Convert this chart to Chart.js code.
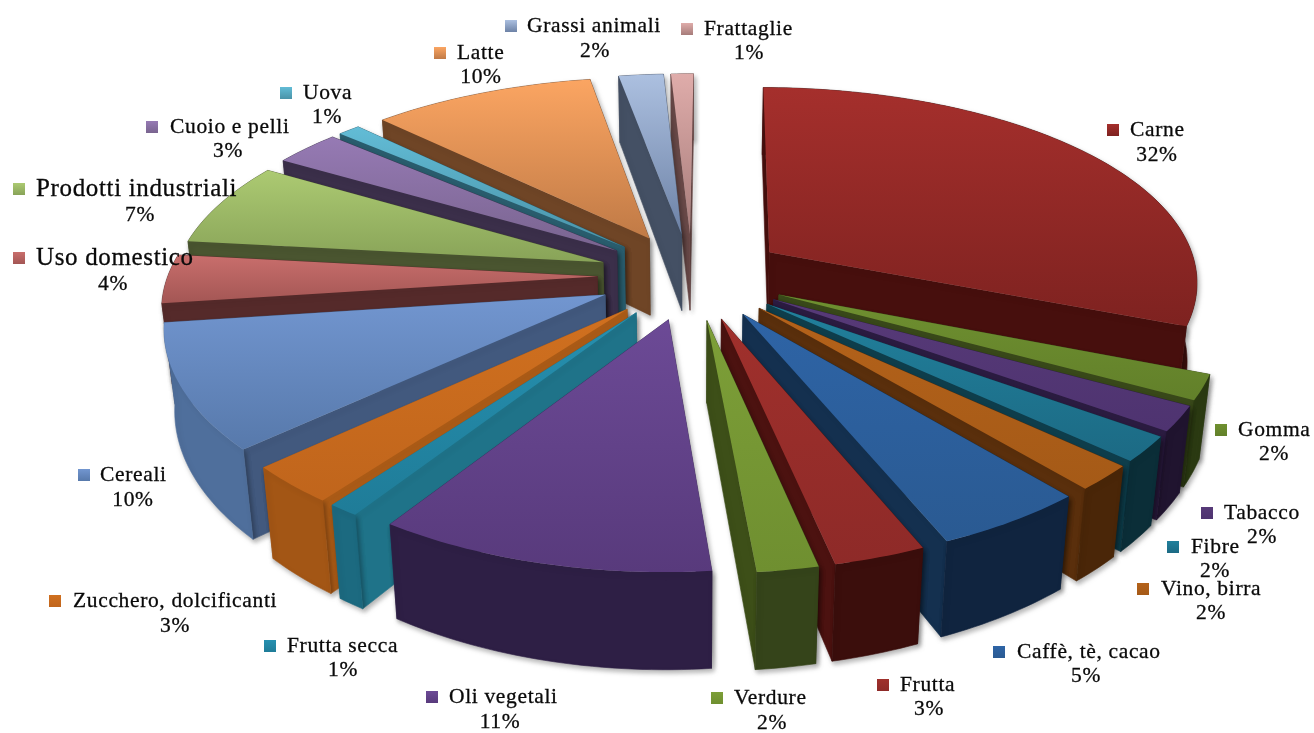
<!DOCTYPE html>
<html>
<head>
<meta charset="utf-8">
<title>Torta 3D</title>
<script src="https://cdn.jsdelivr.net/npm/chart.js@4/dist/chart.umd.min.js"></script>
<style>
  html, body { margin:0; padding:0; background:#fff; }
  canvas { display:block; }
</style>
</head>
<body>
<canvas id="torta" width="1314" height="733"></canvas>
<script>
const categorie = ["Carne","Gomma","Tabacco","Fibre","Vino, birra","Caffè, tè, cacao","Frutta","Verdure","Oli vegetali","Frutta secca","Zucchero, dolcificanti","Cereali","Uso domestico","Prodotti industriali","Cuoio e pelli","Uova","Latte","Grassi animali","Frattaglie"];
const percentuali = [31.7,2,2,2,2,5,3,2,11,1,3,10,4,7,3,1,10,2,1];

// colori: faccia sopra (chiaro, scuro), pareti radiali, parete esterna
const coloriChiari = ["#a52f2c","#6f9030","#573a78","#21809c","#b4621a","#2e64a6","#a0302c","#7d9f38","#6c4a96","#2690b0","#d0701f","#7296d0","#c96e6c","#acca72","#967ab4","#62bcd6","#fba562","#acc0e0","#dfacaa"];
const coloriScuri  = ["#7e2220","#62802a","#4e3370","#1c6a84","#a55a17","#2a5a92","#8e2a28","#6f8f30","#583a7c","#1f7c98","#c0651c","#5779ab","#a35654","#88a358","#79648f","#4a93a8","#c07a46","#6d82a6","#a67c7a"];
const coloriLato   = ["#470f0d","#3a4a1a","#2c1c42","#0f3f4d","#5a2f0c","#14304f","#4c1210","#3d4f18","#3a2858","#1f7389","#ad5c17","#42597e","#552a2a","#4a5530","#3b2f4a","#2a5f70","#6f4526","#445064","#6b4b4a"];
const coloriFuori  = ["#3f0f0d","#2b3a12","#20142f","#0b2e38","#4a2608","#10243f","#3b0e0c","#35441a","#2e1f45","#1c6a80","#a35615","#4f6f9c","#552a2a","#4a5530","#3b2f4a","#2a5f70","#6f4526","#445064","#6b4b4a"];

// etichette: x quadratino, x nome, y nome, x percento, y percento, corpo
const posEtichette = [
  [1107,1130,130,1157,155,21.5],[1215,1238,430,1274,454,21.5],[1201,1224,513,1262,537,21.5],[1167,1191,547,1215,571,21.5],
  [1137,1161,589,1211,613,21.5],[993,1017,652,1086,676,21.5],[877,900,685,929,709,21.5],[711,734,698,772,723,21.5],
  [426,449,697,500,722,21.5],[264,287,646,343,670,21.5],[49,73,601,175,626,21.5],[78,100,475,133,500,21.5],
  [13,36,258,113,284,25],[13,36,189,140,215,25],[146,170,127,228,151,21.5],[280,303,93,327,117,21.5],
  [434,457,53,481,77,21.5],[505,527,26,595,51,21.5],[681,704,29,749,53,21.5]
];

const CX = 692, CY = 276;      // centro a schermo
const RAGGIO = 426;
const SCALA_X = 1.008, SCHIACCIA = 0.4634, PROSP_Y = 0.157, PROSP_X = 0.137, ALTEZZA = 79, RIENTRO = 0.02;

function proietta(px, py, z) {
  const v = py / RAGGIO;
  const wx = 1 - PROSP_X * v + RIENTRO * z;
  const wy = 1 - PROSP_Y * v;
  return [CX + px * SCALA_X / wx, CY + (py * SCHIACCIA + ALTEZZA * z) / wy];
}

function poligono(ctx, punti, colore) {
  ctx.beginPath();
  punti.forEach((p, i) => i ? ctx.lineTo(p[0], p[1]) : ctx.moveTo(p[0], p[1]));
  ctx.closePath();
  ctx.fillStyle = colore;
  ctx.strokeStyle = typeof colore === "string" ? colore : "transparent";
  ctx.lineWidth = 0.6;
  ctx.fill();
  ctx.stroke();
}

function disegnaFetta(ctx, arco, i) {
  const { startAngle, endAngle, outerRadius } = arco.getProps(["startAngle","endAngle","outerRadius"], true);
  const mezzo = (startAngle + endAngle) / 2;
  const sp = arco.options.offset / 4;
  const ox = Math.cos(mezzo) * sp, oy = Math.sin(mezzo) * sp;

  const bordo = [];
  const passi = Math.max(2, Math.ceil((endAngle - startAngle) / 0.02));
  for (let k = 0; k <= passi; k++) {
    const a = startAngle + (endAngle - startAngle) * k / passi;
    bordo.push([ox + Math.cos(a) * outerRadius, oy + Math.sin(a) * outerRadius]);
  }
  const primo = bordo[0], ultimo = bordo[bordo.length - 1];
  const pareti = [
    { v: (oy + primo[1]) / 2, punti: [[ox,oy,0],[primo[0],primo[1],0],[primo[0],primo[1],1],[ox,oy,1]], colore: coloriLato[i] },
    { v: (oy + ultimo[1]) / 2, punti: [[ox,oy,0],[ultimo[0],ultimo[1],0],[ultimo[0],ultimo[1],1],[ox,oy,1]], colore: coloriLato[i] },
    { v: oy + Math.sin(mezzo) * outerRadius, punti: [...bordo.map(p => [p[0],p[1],0]), ...bordo.slice().reverse().map(p => [p[0],p[1],1])], colore: coloriFuori[i] }
  ].sort((a, b) => a.v - b.v);

  ctx.save();
  ctx.shadowColor = "rgba(0,0,0,0.3)";
  ctx.shadowBlur = 5;
  ctx.shadowOffsetX = 2;
  ctx.shadowOffsetY = 3;
  pareti.forEach(p => poligono(ctx, p.punti.map(q => proietta(q[0], q[1], q[2])), p.colore));
  ctx.restore();

  const sopra = [[ox, oy], ...bordo].map(q => proietta(q[0], q[1], 0));
  const ys = sopra.map(q => q[1]);
  const grad = ctx.createLinearGradient(0, Math.min(...ys), 0, Math.max(...ys));
  grad.addColorStop(0, coloriChiari[i]);
  grad.addColorStop(1, coloriScuri[i]);
  poligono(ctx, sopra, grad);
}

function quadratino(ctx, x, y, i) {
  const g = ctx.createLinearGradient(0, y - 6, 0, y + 6);
  g.addColorStop(0, coloriChiari[i]);
  g.addColorStop(1, coloriScuri[i]);
  ctx.fillStyle = g;
  ctx.fillRect(x, y - 6, 12, 12);
}

function scritta(ctx, testo, x, y) {
  ctx.fillText(testo, x, y);
  ctx.strokeText(testo, x, y);
}

const torta3d = {
  id: "torta3d",
  beforeDatasetsDraw(chart) {
    const ctx = chart.ctx;
    const archi = chart.getDatasetMeta(0).data;
    const ordine = archi.map((a, i) => i).sort((p, q) => {
      const m = i => (archi[i].startAngle + archi[i].endAngle) / 2;
      return Math.sin(m(p)) - Math.sin(m(q));
    });
    ordine.forEach(i => disegnaFetta(ctx, archi[i], i));

    ctx.textBaseline = "middle";
    ctx.letterSpacing = "0.65px";
    ctx.lineWidth = 0.3;
    ctx.strokeStyle = "#0a0a0a";
    categorie.forEach((nome, i) => {
      const [xq, xn, yn, xp, yp, corpo] = posEtichette[i];
      quadratino(ctx, xq, yn, i);
      ctx.fillStyle = "#0a0a0a";
      ctx.font = corpo + "px 'Liberation Serif'";
      ctx.textAlign = "left";
      scritta(ctx, nome, xn, yn);
      ctx.font = "21.5px 'Liberation Serif'";
      ctx.textAlign = "center";
      scritta(ctx, Math.round(percentuali[i]) + "%", xp, yp);
    });
    return false;
  }
};

new Chart(document.getElementById("torta"), {
  type: "pie",
  data: {
    labels: categorie,
    datasets: [{ data: percentuali, backgroundColor: coloriChiari, borderWidth: 0, offset: 376 }]
  },
  options: {
    responsive: false,
    animation: false,
    rotation: 0.5,
    radius: RAGGIO,
    plugins: { legend: { display: false }, tooltip: { enabled: false } }
  },
  plugins: [torta3d]
});
</script>
</body>
</html>
